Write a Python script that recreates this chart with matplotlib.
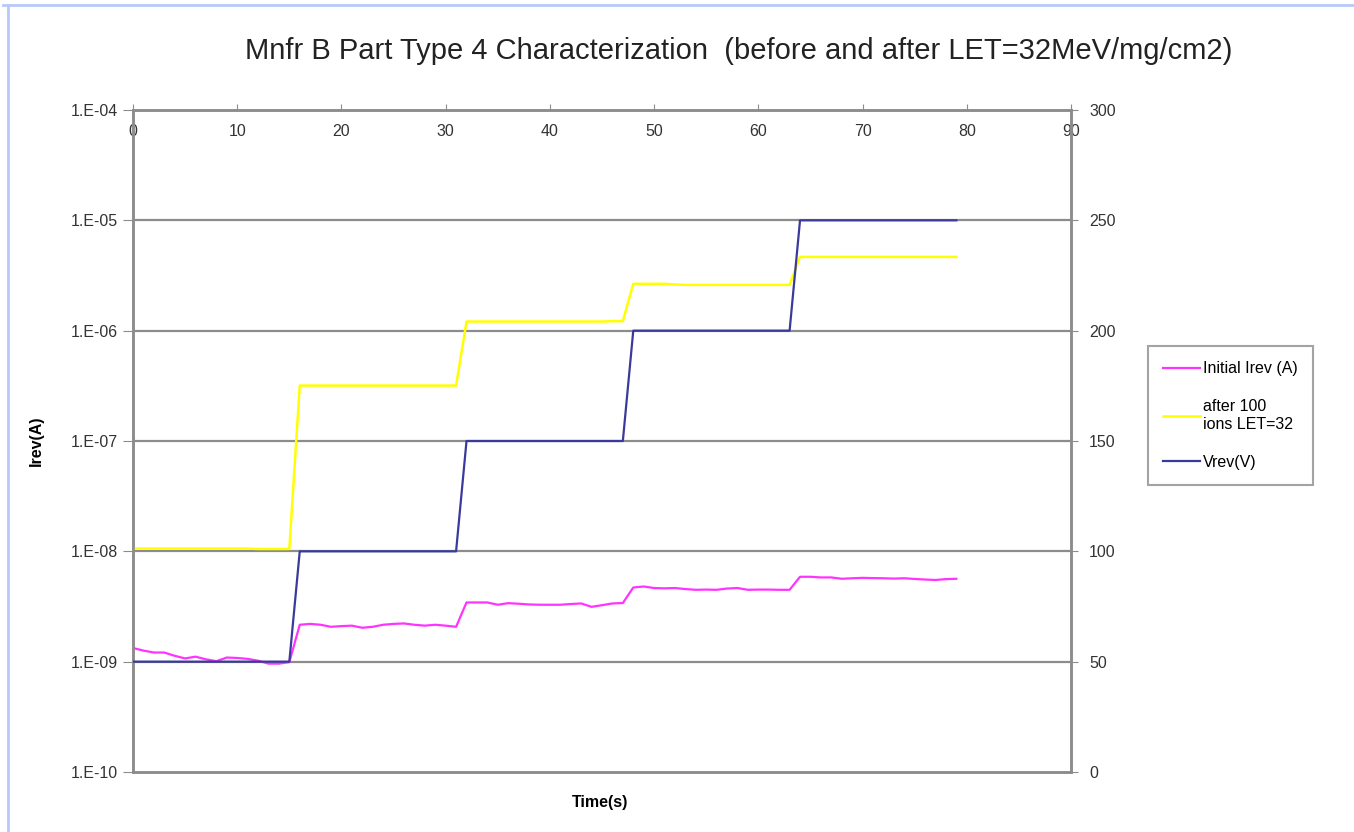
import matplotlib.pyplot as plt
from matplotlib.lines import Line2D
import numpy as np

plt.rcParams['font.family'] = ['Liberation Sans', 'DejaVu Sans']

# time axis (s)
t = list(range(80))

# Initial Irev (A)
irev_initial = [1.33e-9, 1.26e-9, 1.21e-9, 1.21e-9, 1.13e-9, 1.07e-9, 1.11e-9, 1.05e-9,
                1.01e-9, 1.09e-9, 1.08e-9, 1.06e-9, 1.02e-9, 0.96e-9, 0.96e-9, 0.99e-9,
                2.16e-9, 2.20e-9, 2.16e-9, 2.07e-9, 2.10e-9, 2.12e-9, 2.03e-9, 2.07e-9,
                2.16e-9, 2.20e-9, 2.22e-9, 2.16e-9, 2.12e-9, 2.16e-9, 2.12e-9, 2.07e-9,
                3.44e-9, 3.44e-9, 3.44e-9, 3.28e-9, 3.39e-9, 3.35e-9, 3.30e-9, 3.28e-9,
                3.28e-9, 3.28e-9, 3.33e-9, 3.37e-9, 3.14e-9, 3.25e-9, 3.37e-9, 3.40e-9,
                4.70e-9, 4.80e-9, 4.65e-9, 4.62e-9, 4.65e-9, 4.55e-9, 4.48e-9, 4.50e-9,
                4.48e-9, 4.60e-9, 4.65e-9, 4.48e-9, 4.50e-9, 4.50e-9, 4.48e-9, 4.48e-9,
                5.88e-9, 5.88e-9, 5.80e-9, 5.80e-9, 5.64e-9, 5.70e-9, 5.75e-9, 5.72e-9,
                5.70e-9, 5.66e-9, 5.70e-9, 5.62e-9, 5.55e-9, 5.50e-9, 5.60e-9, 5.64e-9]

# after 100 ions LET=32 (A)
irev_after = [1.06e-8, 1.06e-8, 1.06e-8, 1.06e-8, 1.06e-8, 1.06e-8, 1.06e-8, 1.06e-8,
              1.06e-8, 1.06e-8, 1.06e-8, 1.06e-8, 1.05e-8, 1.05e-8, 1.05e-8, 1.05e-8,
              3.18e-7, 3.18e-7, 3.18e-7, 3.18e-7, 3.18e-7, 3.18e-7, 3.18e-7, 3.18e-7,
              3.18e-7, 3.18e-7, 3.18e-7, 3.18e-7, 3.18e-7, 3.18e-7, 3.18e-7, 3.18e-7,
              1.21e-6, 1.21e-6, 1.21e-6, 1.21e-6, 1.21e-6, 1.21e-6, 1.21e-6, 1.21e-6,
              1.21e-6, 1.21e-6, 1.21e-6, 1.21e-6, 1.21e-6, 1.21e-6, 1.22e-6, 1.22e-6,
              2.66e-6, 2.66e-6, 2.66e-6, 2.66e-6, 2.62e-6, 2.60e-6, 2.60e-6, 2.60e-6,
              2.60e-6, 2.60e-6, 2.60e-6, 2.60e-6, 2.60e-6, 2.60e-6, 2.60e-6, 2.60e-6,
              4.66e-6, 4.66e-6, 4.66e-6, 4.66e-6, 4.66e-6, 4.66e-6, 4.66e-6, 4.66e-6,
              4.66e-6, 4.66e-6, 4.66e-6, 4.66e-6, 4.66e-6, 4.66e-6, 4.66e-6, 4.66e-6]

# Vrev (V)
vrev = [50, 50, 50, 50, 50, 50, 50, 50, 50, 50, 50, 50, 50, 50, 50, 50,
        100, 100, 100, 100, 100, 100, 100, 100, 100, 100, 100, 100, 100, 100, 100, 100,
        150, 150, 150, 150, 150, 150, 150, 150, 150, 150, 150, 150, 150, 150, 150, 150,
        200, 200, 200, 200, 200, 200, 200, 200, 200, 200, 200, 200, 200, 200, 200, 200,
        250, 250, 250, 250, 250, 250, 250, 250, 250, 250, 250, 250, 250, 250, 250, 250]

left_ticks = [1e-10, 1e-9, 1e-8, 1e-7, 1e-6, 1e-5, 1e-4]
left_labels = ['1.E-10', '1.E-09', '1.E-08', '1.E-07', '1.E-06', '1.E-05', '1.E-04']
right_ticks = [0, 50, 100, 150, 200, 250, 300]
x_ticks = [0, 10, 20, 30, 40, 50, 60, 70, 80, 90]

grey = '#8c8c8c'

fig = plt.figure(figsize=(13.54, 8.32), dpi=100)
ax = fig.add_axes([133/1354, 1-772/832, (1071-133)/1354, (772-110)/832])
ax2 = ax.twinx()

ax.set_yscale('log')
ax.set_ylim(1e-10, 1e-4)
ax.set_xlim(0, 90)
ax2.set_ylim(0, 300)

ax.set_yticks(left_ticks)
ax.set_yticklabels(left_labels)
ax.yaxis.set_minor_locator(plt.NullLocator())
ax2.set_yticks(right_ticks)
ax.set_xticks(x_ticks)

for y in left_ticks[1:-1]:
    ax.axhline(y, color=grey, lw=1.6, zorder=0)

l1, = ax.plot(t, irev_initial, color='#ff33ff', lw=1.6, zorder=3)
l2, = ax.plot(t, irev_after, color='#ffff00', lw=1.8, zorder=3)
l3, = ax2.plot(t, vrev, color='#3a3a9c', lw=1.6, zorder=3)

ax.xaxis.tick_top()
ax.tick_params(axis='x', top=True, bottom=False, labeltop=True, labelbottom=False,
               direction='out', length=4, pad=-25, color=grey, labelsize=11.5, labelcolor='#333333')
ax.tick_params(axis='y', direction='out', length=7, color=grey, labelsize=11.5,
               labelcolor='#333333', pad=4)
ax2.tick_params(axis='y', direction='out', length=5, color=grey, labelsize=11.5,
                labelcolor='#333333', pad=8)

for a in (ax, ax2):
    for s in a.spines.values():
        s.set_color(grey)
        s.set_linewidth(1.8)

ax.set_ylabel('Irev(A)', fontsize=11.5, fontweight='bold', labelpad=19)
fig.text(600/1354, 1-803/832, 'Time(s)', fontsize=11.5, fontweight='bold', ha='center', va='center')
fig.text(739/1354, 1-51/832, 'Mnfr B Part Type 4 Characterization  (before and after LET=32MeV/mg/cm2)',
         fontsize=21, ha='center', va='center', color='#222222')

leg = fig.legend([l1, l2, l3], ['Initial Irev (A)', 'after 100\nions LET=32', 'Vrev(V)'],
                 loc='upper left', bbox_to_anchor=(1140/1354, 1-338/832),
                 fontsize=11.5, frameon=True, fancybox=False, edgecolor=grey,
                 handlelength=2.3, handletextpad=0.2, labelspacing=1.45, borderpad=0.95)
leg.get_frame().set_linewidth(1.5)

# light blue frame around the slide
fig.add_artist(Line2D([3/1354, 1], [1-5/832, 1-5/832], transform=fig.transFigure, color='#b8c8fa', lw=2))
fig.add_artist(Line2D([8/1354, 8/1354], [0, 1-5/832], transform=fig.transFigure, color='#b8c8fa', lw=2))

plt.savefig('out.png', dpi=100)
